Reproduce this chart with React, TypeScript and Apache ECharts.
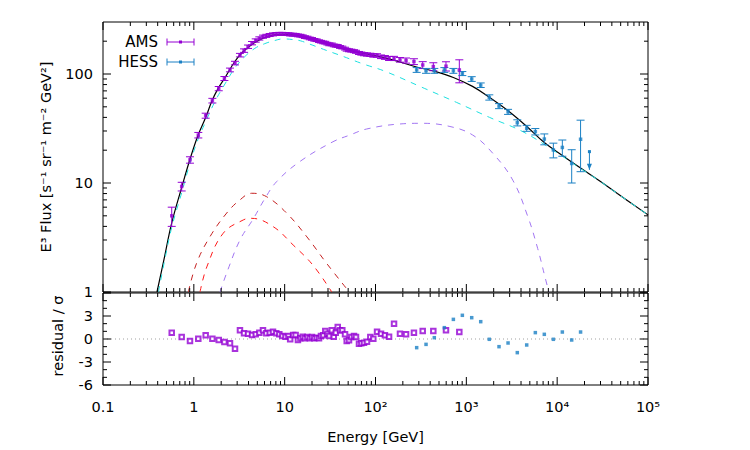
import React, { useEffect, useRef } from 'react';
import * as echarts from 'echarts';

// ---------------- data ----------------
const amsEnergy = [0.571, 0.735, 0.907, 1.12, 1.35, 1.6, 1.88, 2.17, 2.5, 2.84, 3.22, 3.57, 3.95, 4.37, 4.8, 5.26, 5.77, 6.28, 6.84, 7.44, 8.09, 8.73, 9.42, 10.2, 11.0, 11.5, 12.4, 13.2, 14.0, 14.9, 15.8, 16.7, 17.8, 18.9, 20.0, 21.2, 22.5, 23.9, 25.1, 26.6, 28.0, 29.5, 31.0, 33.0, 34.7, 36.5, 38.4, 40.7, 43.1, 46.2, 48.2, 51.1, 54.2, 58.0, 61.0, 65.8, 69.8, 74.7, 80.6, 87.7, 94.6, 104, 115, 127, 141, 160, 186, 217, 265, 331, 433, 597, 837];
const amsFlux = [5.0, 9.3, 16.3, 27.5, 41.5, 57, 73.5, 91, 109, 126, 149, 164, 178, 192, 203, 212, 220, 224, 228, 231, 233, 234, 234, 233, 232, 230, 230, 229, 226, 225, 222, 218, 216, 212, 210, 206, 204, 200, 198, 195, 194, 190, 187, 187, 183, 182, 181, 177, 175, 171, 167, 165, 164, 162, 160, 156, 154, 152, 151, 150, 148, 148, 144, 142, 139, 139, 135, 133, 130, 121, 117, 118, 109];
const amsError = [1.0, 0.85, 1.1, 1.6, 2.2, 2.8, 3.3, 3.8, 4.3, 4.8, 5.6, 6.0, 6.4, 6.8, 7.0, 7.2, 7.3, 7.3, 7.3, 7.3, 7.2, 7.1, 7.0, 6.9, 6.8, 6.7, 6.7, 6.6, 6.5, 6.4, 6.3, 6.2, 6.1, 6.0, 5.9, 5.8, 5.7, 5.6, 5.5, 5.5, 5.4, 5.3, 5.3, 5.3, 5.2, 5.2, 5.2, 5.1, 5.1, 5.0, 5.0, 5.0, 5.0, 5.0, 5.0, 5.0, 5.0, 5.0, 5.1, 5.1, 5.2, 5.4, 5.5, 5.7, 5.9, 6.2, 6.6, 7.2, 8.0, 8.8, 9.8, 11.5, 26];
const amsResidual = [0.83, 0.26, -0.26, 0.04, 0.48, 0.04, -0.13, -0.39, -0.56, -1.26, 1.13, 0.74, 0.7, 0.52, 0.61, 0.83, 1.13, 0.74, 0.83, 0.96, 0.74, 0.61, 0.39, 0.3, 0.39, -0.04, 0.52, 0.52, -0.13, 0.09, 0.3, 0.09, 0.26, 0.09, 0.26, 0.09, 0.17, 0.09, 0.39, 0.48, 1.04, 0.7, 0.39, 1.13, 0.3, 0.83, 1.57, 1.13, 1.13, 0.61, -0.26, -0.17, 0.26, 0.39, 0.26, -0.61, -0.56, -0.48, -0.35, 0.26, 0.04, 0.96, 0.7, 0.48, 0.3, 2.0, 0.7, 0.61, 0.83, 1.04, 1.04, 1.13, 0.91];

const hessEnergy = [284, 360, 444, 573, 720, 904, 1146, 1440, 1790, 2290, 2880, 3640, 4620, 5750, 7220, 9080, 11400, 14450, 18100];
const hessFlux = [109, 107, 107, 109, 107, 101, 90, 79, 61, 50.8, 45, 35.7, 31.8, 29.6, 25.3, 20.1, 21.2, 15.1, 25.2];
const hessError = [5.5, 5.5, 5.5, 5.5, 5.5, 4.3, 4.5, 3.8, 3.4, 2.7, 2.4, 2.3, 2.0, 2.0, 2.9, 3.1, 3.6, 5.1, 12.5];
const hessResidual = [-1.13, -0.7, 0.17, 1.48, 2.56, 3.09, 2.78, 2.26, -0.04, -1.0, -0.52, -1.78, -0.78, 0.83, 0.61, -0.04, 0.91, -0.13, 0.91];
const hessLimitEnergy = [22650];
const hessLimitFlux = [19.4];
const hessLimitArrowEnd = [13.2];

const totalModelEnergy = [0.393, 0.47, 0.571, 0.735, 0.907, 1.11, 1.36, 1.58, 1.84, 2.2, 2.84, 3.48, 4.47, 5.77, 7.44, 9.6, 12.4, 14.8, 18.9, 24.2, 33.9, 46.2, 80, 144, 283, 444, 720, 1170, 1800, 2880, 4630, 7220, 11400, 18100, 30000, 46000, 100000];
const totalModelFlux = [1, 2.0, 4.3, 9.1, 16.5, 27.3, 40.5, 56.5, 73, 92.5, 131, 160, 189, 213, 227, 231, 229, 224, 212, 197, 182, 168, 152.5, 137, 116, 106, 93, 77, 61, 46, 33, 23.5, 17.9, 13.7, 10.3, 8.0, 5.1];

const cyanEnergy = [0.408, 0.48, 0.575, 0.74, 0.907, 1.11, 1.36, 1.71, 2.2, 2.84, 3.66, 4.7, 6.05, 7.8, 9.6, 12.3, 14.8, 18.9, 28.6, 44, 72.5, 127, 319, 776, 1800, 4210, 9030, 18100, 30000, 46000, 100000];
const cyanFlux = [1, 2.0, 4.0, 8.3, 15.2, 25, 37, 56, 81, 114, 145, 172, 190, 203, 210, 207, 202, 188, 165, 145, 124, 106, 76, 55, 40, 29.5, 20, 13.6, 10.3, 8.0, 5.1];

const purpleEnergy = [1.94, 2.37, 3.22, 4.52, 6.06, 8.16, 14.8, 34, 52, 80, 186, 331, 660, 1170, 1960, 3250, 4760, 6110, 7300, 8100];
const purpleFlux = [1, 1.6, 3.0, 4.7, 7.2, 10.3, 15.8, 23.9, 27.5, 31.3, 34.8, 35.3, 33, 27.6, 18.7, 10.6, 4.9, 2.5, 1.4, 1];

const darkRedEnergy = [0.87, 1.07, 1.5, 2.3, 3.22, 4.33, 6.3, 10.5, 17.6, 29, 51.5];
const darkRedFlux = [1, 1.83, 3.2, 5.3, 7.0, 8.05, 7.5, 5.3, 3.2, 1.83, 1];

const redEnergy = [1.17, 1.39, 2.1, 3.5, 4.33, 7.5, 12.4, 20.4, 33];
const redFlux = [1, 1.7, 3.45, 4.58, 4.74, 3.97, 2.7, 1.77, 1];

const xMajorTicks = [0.1, 1, 10, 100, 1000, 10000, 100000];
const xTickLabels = ['0.1', '1', '10', '10²', '10³', '10⁴', '10⁵'];
const minorMultipliers = [2, 3, 4, 5, 6, 7, 8, 9];
const fluxMajorTicks = [1, 10, 100];
const fluxTickLabels = ['1', '10', '100'];
const residualMajorTicks = [-6, -3, 0, 3, 6];
const residualMinorTicks = [-5, -4, -2, -1, 1, 2, 4, 5];

// ---------------- style ----------------
const AMS_COLOR = '#9400d3';
const HESS_COLOR = '#1a80c4';
const FONT = '"DejaVu Sans", Verdana, sans-serif';
const FS_TICK = 14.5;
const FS_LEGEND = 15;
const FS_TITLE = 14.5;
const X_MIN = 0.1, X_MAX = 100000, F_MIN = 1, F_MAX = 300, R_MIN = -6, R_MAX = 6;

const pairs = (xs: number[], ys: number[]) => xs.map((x, i) => [x, ys[i]]);

const xTickData = (yEdge: number) => {
  const d: number[][] = [];
  xMajorTicks.forEach((v, i) => {
    d.push([v, yEdge, 1]);
    if (i < xMajorTicks.length - 1) minorMultipliers.forEach((m) => d.push([v * m, yEdge, 0]));
  });
  return d;
};
const fluxTickData = () => {
  const d: number[][] = [];
  fluxMajorTicks.forEach((v) => {
    d.push([X_MIN, v, 1]);
    minorMultipliers.forEach((m) => { if (v * m < F_MAX) d.push([X_MIN, v * m, 0]); });
  });
  return d;
};
const residualTickData = () => [
  ...residualMajorTicks.map((v) => [X_MIN, v, 1]),
  ...residualMinorTicks.map((v) => [X_MIN, v, 0]),
];

const lineEl = (x1: number, y1: number, x2: number, y2: number, stroke = '#000') => ({
  type: 'line', shape: { x1, y1, x2, y2 }, style: { stroke, lineWidth: 1 },
});

const xTickSeries = (idx: number, yMin: number, yMax: number) => ({
  type: 'custom', xAxisIndex: idx, yAxisIndex: idx, silent: true, z: 20, clip: false,
  encode: { x: 0, y: 1 },
  data: xTickData(yMin),
  renderItem: (_p: any, api: any) => {
    const v = api.value(0);
    const len = api.value(2) === 1 ? 8 : 4;
    const b = api.coord([v, yMin]);
    const t = api.coord([v, yMax]);
    return { type: 'group', children: [lineEl(b[0], b[1], b[0], b[1] - len), lineEl(t[0], t[1], t[0], t[1] + len)] };
  },
});

const yTickSeries = (idx: number, data: number[][]) => ({
  type: 'custom', xAxisIndex: idx, yAxisIndex: idx, silent: true, z: 20, clip: false,
  encode: { x: 0, y: 1 },
  data,
  renderItem: (_p: any, api: any) => {
    const v = api.value(1);
    const len = api.value(2) === 1 ? 8 : 4;
    const l = api.coord([X_MIN, v]);
    const r = api.coord([X_MAX, v]);
    return { type: 'group', children: [lineEl(l[0], l[1], l[0] + len, l[1]), lineEl(r[0], r[1], r[0] - len, r[1])] };
  },
});

const errorBarSeries = (xs: number[], ys: number[], errs: number[], color: string) => ({
  type: 'custom', xAxisIndex: 0, yAxisIndex: 0, silent: true, z: 5,
  encode: { x: 0, y: [1, 2] },
  data: xs.map((x, i) => [x, ys[i] - errs[i], ys[i] + errs[i]]),
  renderItem: (_p: any, api: any) => {
    const lo = api.coord([api.value(0), api.value(1)]);
    const hi = api.coord([api.value(0), api.value(2)]);
    const c = 4;
    return {
      type: 'group',
      children: [
        lineEl(lo[0], lo[1], hi[0], hi[1], color),
        lineEl(lo[0] - c, lo[1], lo[0] + c, lo[1], color),
        lineEl(hi[0] - c, hi[1], hi[0] + c, hi[1], color),
      ],
    };
  },
});

const curve = (xs: number[], ys: number[], color: string, dashed: boolean, width = 1, z = 3) => ({
  type: 'line', xAxisIndex: 0, yAxisIndex: 0, silent: true, z,
  data: pairs(xs, ys), showSymbol: false, symbol: 'none', smooth: 0.4,
  lineStyle: { color, width, type: dashed ? [6, 6] : 'solid' },
});

const logLabel = (labels: string[], firstExp: number) => (v: number) => {
  const l = Math.log10(v);
  const e = Math.round(l);
  if (Math.abs(l - e) > 1e-6) return '';
  return labels[e - firstExp] ?? '';
};

const legendGraphic = (label: string, y: number, color: string) => [
  { type: 'text', x: 158, y, style: { text: label, x: 0, y: 0, align: 'right', textAlign: 'right', verticalAlign: 'middle', textVerticalAlign: 'middle', fontSize: FS_LEGEND, fontFamily: FONT, fill: '#000' } },
  { type: 'line', shape: { x1: 167, y1: y, x2: 194, y2: y }, style: { stroke: color, lineWidth: 1 } },
  { type: 'line', shape: { x1: 167, y1: y - 3.5, x2: 167, y2: y + 3.5 }, style: { stroke: color, lineWidth: 1 } },
  { type: 'line', shape: { x1: 194, y1: y - 3.5, x2: 194, y2: y + 3.5 }, style: { stroke: color, lineWidth: 1 } },
  { type: 'rect', shape: { x: 179, y: y - 1.5, width: 3, height: 3 }, style: { fill: color } },
];

export default function App() {
  const ref = useRef<HTMLDivElement>(null);
  useEffect(() => {
    if (!ref.current) return;
    const chart = echarts.init(ref.current, undefined, { renderer: 'svg' });
    const tickFont = { fontFamily: FONT, fontSize: FS_TICK, color: '#000' };
    const option: any = {
      animation: false,
      backgroundColor: '#fff',
      grid: [
        { left: 103, top: 22, width: 545, height: 270, show: true, borderColor: '#000', borderWidth: 1, backgroundColor: 'transparent' },
        { left: 103, top: 293, width: 545, height: 92, show: true, borderColor: '#000', borderWidth: 1, backgroundColor: 'transparent' },
      ],
      xAxis: [
        { type: 'log', logBase: 10, gridIndex: 0, min: X_MIN, max: X_MAX, splitNumber: 6, axisLine: { show: false }, axisTick: { show: false }, axisLabel: { show: false }, splitLine: { show: false }, minorTick: { show: false } },
        {
          type: 'log', logBase: 10, gridIndex: 1, min: X_MIN, max: X_MAX, splitNumber: 6,
          axisLine: { show: false }, axisTick: { show: false }, splitLine: { show: false },
          axisLabel: { ...tickFont, margin: 14, showMinLabel: true, showMaxLabel: true, formatter: logLabel(xTickLabels, -1) },
          name: 'Energy [GeV]', nameLocation: 'middle', nameGap: 44, nameTextStyle: { fontFamily: FONT, fontSize: FS_TITLE, color: '#000' },
        },
      ],
      yAxis: [
        {
          type: 'log', logBase: 10, gridIndex: 0, min: F_MIN, max: F_MAX, splitNumber: 3,
          axisLine: { show: false }, axisTick: { show: false }, splitLine: { show: false },
          axisLabel: { ...tickFont, margin: 10, showMinLabel: true, formatter: logLabel(fluxTickLabels, 0) },
        },
        {
          type: 'value', gridIndex: 1, min: R_MIN, max: R_MAX, interval: 3,
          axisLine: { show: false }, axisTick: { show: false }, splitLine: { show: false },
          axisLabel: { ...tickFont, margin: 10, formatter: (v: number) => (v >= R_MAX ? '' : String(v)) },
        },
      ],
      graphic: [
        ...legendGraphic('AMS', 42, AMS_COLOR),
        ...legendGraphic('HESS', 62, HESS_COLOR),
        { type: 'text', x: 46, y: 157, rotation: Math.PI / 2, style: { text: 'E³ Flux [s⁻¹ sr⁻¹ m⁻² GeV²]', x: 0, y: 0, align: 'center', textAlign: 'center', verticalAlign: 'middle', textVerticalAlign: 'middle', fontSize: FS_TITLE, fontFamily: FONT, fill: '#000' } },
        { type: 'text', x: 58, y: 336, rotation: Math.PI / 2, style: { text: 'residual / σ', x: 0, y: 0, align: 'center', textAlign: 'center', verticalAlign: 'middle', textVerticalAlign: 'middle', fontSize: FS_TITLE, fontFamily: FONT, fill: '#000' } },
      ],
      series: [
        curve(darkRedEnergy, darkRedFlux, '#c42020', true),
        curve(redEnergy, redFlux, '#ff1a1a', true),
        curve(purpleEnergy, purpleFlux, '#a276f2', true),
        curve(totalModelEnergy, totalModelFlux, '#000000', false, 1.2, 3),
        curve(cyanEnergy, cyanFlux, '#1fe0e0', true, 1, 4),
        errorBarSeries(amsEnergy, amsFlux, amsError, AMS_COLOR),
        errorBarSeries(hessEnergy, hessFlux, hessError, HESS_COLOR),
        {
          type: 'scatter', xAxisIndex: 0, yAxisIndex: 0, silent: true, z: 6,
          data: pairs(amsEnergy, amsFlux), symbol: 'rect', symbolSize: 3.5, itemStyle: { color: AMS_COLOR },
        },
        {
          type: 'scatter', xAxisIndex: 0, yAxisIndex: 0, silent: true, z: 6,
          data: pairs(hessEnergy, hessFlux), symbol: 'rect', symbolSize: 3.5, itemStyle: { color: HESS_COLOR },
        },
        {
          type: 'custom', xAxisIndex: 0, yAxisIndex: 0, silent: true, z: 6,
          encode: { x: 0, y: [1, 2] },
          data: hessLimitEnergy.map((e, i) => [e, hessLimitFlux[i], hessLimitArrowEnd[i]]),
          renderItem: (_p: any, api: any) => {
            const top = api.coord([api.value(0), api.value(1)]);
            const bot = api.coord([api.value(0), api.value(2)]);
            return {
              type: 'group',
              children: [
                lineEl(top[0], top[1], bot[0], bot[1], HESS_COLOR),
                { type: 'rect', shape: { x: top[0] - 1.5, y: top[1] - 1.5, width: 3, height: 3 }, style: { fill: HESS_COLOR } },
                { type: 'polygon', shape: { points: [[bot[0] - 2.5, bot[1] - 6], [bot[0] + 2.5, bot[1] - 6], [bot[0], bot[1]]] }, style: { fill: HESS_COLOR } },
              ],
            };
          },
        },
        {
          type: 'line', xAxisIndex: 1, yAxisIndex: 1, silent: true, z: 2, showSymbol: false, symbol: 'none',
          data: [[X_MIN, 0], [X_MAX, 0]],
          lineStyle: { color: '#a0a0a0', width: 1, type: [1, 3] },
        },
        {
          type: 'scatter', xAxisIndex: 1, yAxisIndex: 1, silent: true, z: 6,
          data: pairs(amsEnergy, amsResidual), symbol: 'emptyRect', symbolSize: 4.5,
          itemStyle: { color: AMS_COLOR, borderColor: AMS_COLOR, borderWidth: 1 },
        },
        {
          type: 'scatter', xAxisIndex: 1, yAxisIndex: 1, silent: true, z: 6,
          data: pairs(hessEnergy, hessResidual), symbol: 'rect', symbolSize: 3.5, itemStyle: { color: HESS_COLOR },
        },
        xTickSeries(0, F_MIN, F_MAX),
        xTickSeries(1, R_MIN, R_MAX),
        yTickSeries(0, fluxTickData()),
        yTickSeries(1, residualTickData()),
      ],
    };
    chart.setOption(option);
    return () => chart.dispose();
  }, []);
  return <div ref={ref} style={{ position: 'absolute', left: 0, top: 0, width: 750, height: 450, background: '#fff' }} />;
}
